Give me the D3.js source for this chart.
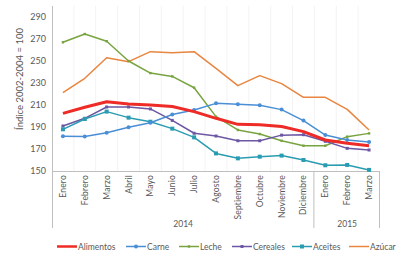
<!DOCTYPE html>
<html>
<head>
<meta charset="utf-8">
<script src="https://cdn.jsdelivr.net/npm/d3@7"></script>
<style>
  body { margin: 0; background: #fff; }
  svg text { font-family: "Lato", "Open Sans", sans-serif; fill: #595959; }
</style>
</head>
<body>
<div id="chart"></div>
<script>
"use strict";

const months = ["Enero", "Febrero", "Marzo", "Abril", "Mayo", "Junio", "Julio", "Agosto",
  "Septiembre", "Octubre", "Noviembre", "Diciembre", "Enero", "Febrero", "Marzo"];
const years = [{label: "2014", from: 0, to: 12}, {label: "2015", from: 12, to: 15}];
const yTicks = [150, 170, 190, 210, 230, 250, 270, 290];

const alimentos = [202.4, 207.9, 213, 211, 210, 208.7, 204, 197.9, 192.4, 192.1, 190.5, 185.8, 178.2, 175.2, 173];
const carne = [181.5, 181.4, 184.8, 189.7, 193.9, 201.4, 205.5, 211.5, 210.6, 209.7, 205.8, 195.8, 182.7, 178.2, 176.4];
const leche = [267, 274.5, 268, 250, 239, 236, 225.7, 199.4, 187.3, 183.6, 177.5, 173, 173, 181.2, 184.2];
const cereales = [190.9, 197.9, 208.2, 208.2, 206.4, 196, 184.3, 181.8, 177.5, 177.5, 182.6, 183, 177, 170.6, 169.1];
const aceites = [187.9, 197.3, 204, 198.5, 194.8, 188.5, 180.6, 166, 161.5, 163, 164, 160, 155.2, 155.5, 151];
const azucar = [221.2, 234.3, 253, 249.4, 258.5, 257.6, 258.5, 243.3, 227.6, 236.7, 229.4, 217, 217, 206, 187.3];

const series = [
  {name: "Alimentos", values: alimentos, color: "#ee2b26", width: 3, marker: null, lx: 57},
  {name: "Carne", values: carne, color: "#4a8fd5", width: 1.5, marker: "circle", lx: 126},
  {name: "Leche", values: leche, color: "#78a440", width: 1.5, marker: "dash", lx: 179},
  {name: "Cereales", values: cereales, color: "#6b57a3", width: 1.5, marker: "small", lx: 232},
  {name: "Aceites", values: aceites, color: "#2a9cb2", width: 1.5, marker: "square", lx: 292},
  {name: "Azúcar", values: azucar, color: "#e8853f", width: 1.5, marker: null, lx: 349}
];

const W = 406, H = 255;
const plotLeft = 52, plotRight = 380, plotTop = 6, plotBottom = 171, boxBottom = 228;

const svg = d3.select("#chart").append("svg").attr("width", W).attr("height", H);

const x = d3.scaleBand().domain(d3.range(months.length)).range([plotLeft, plotRight]);
const y = d3.scaleLinear().domain([150, 300]).range([plotBottom, plotTop]);

// faint vertical grid
svg.append("g").selectAll("line")
  .data(d3.range(1, months.length))
  .join("line")
  .attr("x1", d => x(d)).attr("x2", d => x(d))
  .attr("y1", plotTop).attr("y2", plotBottom)
  .attr("stroke", "#f3f3f3").attr("stroke-width", 1);

// y axis
const yAxis = svg.append("g")
  .attr("transform", `translate(${plotLeft},0)`)
  .call(d3.axisLeft(y).tickValues(yTicks).tickSize(0).tickPadding(6));
yAxis.select(".domain").remove();
yAxis.selectAll("text").style("font-size", "9px").attr("fill", "#595959");

svg.append("line")
  .attr("x1", plotLeft + 0.5).attr("x2", plotLeft + 0.5)
  .attr("y1", plotTop).attr("y2", boxBottom)
  .attr("stroke", "#bfbfbf");
svg.append("line")
  .attr("x1", plotLeft).attr("x2", plotRight)
  .attr("y1", plotBottom + 0.5).attr("y2", plotBottom + 0.5)
  .attr("stroke", "#bfbfbf");

// year separators
years.forEach(yr => {
  const xe = yr.to >= months.length ? plotRight : x(yr.to);
  svg.append("line")
    .attr("x1", xe - 0.5).attr("x2", xe - 0.5)
    .attr("y1", plotBottom).attr("y2", boxBottom)
    .attr("stroke", "#bfbfbf");
  const xs = x(yr.from);
  svg.append("text")
    .attr("x", (xs + xe) / 2).attr("y", 227)
    .attr("text-anchor", "middle")
    .style("font-size", "8.5px")
    .text(yr.label);
});

// month labels
svg.append("g").selectAll("text")
  .data(months)
  .join("text")
  .attr("transform", (d, i) => `translate(${x(i) + x.bandwidth() / 2 + 3},175) rotate(-90)`)
  .attr("text-anchor", "end")
  .style("font-size", "8.5px")
  .style("letter-spacing", "0.2px")
  .text(d => d);

// y label
svg.append("text")
  .attr("transform", "translate(23,79) rotate(-90)")
  .attr("text-anchor", "middle")
  .style("font-size", "9.5px")
  .text("Índice 2002-2004 = 100");

const line = d3.line()
  .x((d, i) => x(i) + x.bandwidth() / 2)
  .y(d => y(d));

function drawMarker(g, kind, cx, cy, color) {
  if (kind === "circle") {
    g.append("circle").attr("cx", cx).attr("cy", cy).attr("r", 2).attr("fill", color);
  } else if (kind === "square") {
    g.append("rect").attr("x", cx - 2).attr("y", cy - 2).attr("width", 4).attr("height", 4).attr("fill", color);
  } else if (kind === "small") {
    g.append("rect").attr("x", cx - 1.5).attr("y", cy - 1.5).attr("width", 3).attr("height", 3).attr("fill", color);
  } else if (kind === "dash") {
    g.append("rect").attr("x", cx - 1.2).attr("y", cy - 1.2).attr("width", 2.4).attr("height", 2.4).attr("fill", color);
  }
}

// draw from back to front as in the reference
const order = [5, 2, 3, 4, 1, 0];
order.forEach(k => {
  const s = series[k];
  const g = svg.append("g");
  g.append("path")
    .attr("d", line(s.values))
    .attr("fill", "none")
    .attr("stroke", s.color)
    .attr("stroke-width", s.width)
    .attr("stroke-linejoin", "round");
  if (s.marker) {
    s.values.forEach((v, i) => drawMarker(g, s.marker, x(i) + x.bandwidth() / 2, y(v), s.color));
  }
});

// legend
const ly = 246.5;
series.forEach(s => {
  const g = svg.append("g");
  g.append("line")
    .attr("x1", s.lx).attr("x2", s.lx + 20)
    .attr("y1", ly).attr("y2", ly)
    .attr("stroke", s.color).attr("stroke-width", s.width === 3 ? 2.5 : 1.5);
  if (s.marker) drawMarker(g, s.marker, s.lx + 10, ly, s.color);
  g.append("text")
    .attr("x", s.lx + 21).attr("y", ly + 3)
    .style("font-size", "8.5px")
    .text(s.name);
});
</script>
</body>
</html>
